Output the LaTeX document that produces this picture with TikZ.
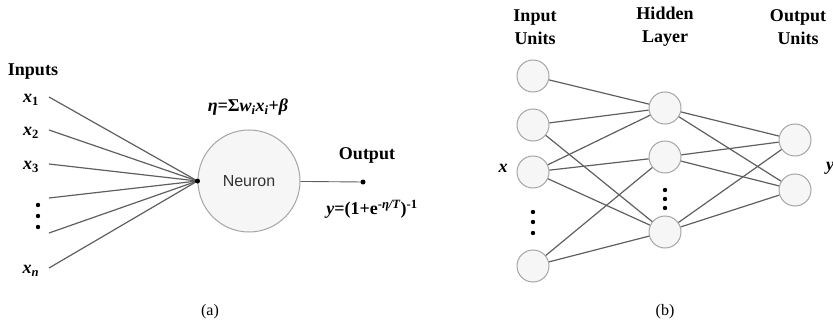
\documentclass[tikz,border=0pt]{standalone}
\usepackage{fontspec}
\setmainfont{Liberation Serif}
\setsansfont{Liberation Sans}
\usetikzlibrary{positioning,calc}
\definecolor{unitgray}{RGB}{165,165,165}
\definecolor{unitfill}{RGB}{246,246,246}
\definecolor{wiregray}{RGB}{95,95,95}

\begin{document}
\begin{tikzpicture}[
    x=1pt, y=-1pt,
    every node/.style={align=center, inner sep=0pt},
    title/.style={font=\fontsize{18}{23}\selectfont\bfseries},
    var/.style={font=\fontsize{18}{20}\selectfont\bfseries\itshape},
    caption/.style={font=\fontsize{16}{18}\selectfont},
    unit/.style={circle, minimum size=32pt, draw=unitgray, fill=unitfill, line width=1pt},
    neuron/.style={circle, minimum size=102pt, draw=unitgray, fill=unitfill, line width=1pt, font=\sffamily\fontsize{16}{18}\selectfont, text=black!80},
    wire/.style={draw=wiregray, line width=1.2pt}
]
\useasboundingbox (0,0) rectangle (833,329);

% Single neuron
\node[neuron] (neuron) at (249,181) {Neuron};
\coordinate (join) at (neuron.west);
\foreach \y [count=\i] in {97,130,164,198,233,268}
  \coordinate (in\i) at (49,\y);
\foreach \i in {1,...,6}
  \draw[wire] (in\i) -- (join);
\fill (join) circle (2.5pt);

\coordinate (out) at (363,182);
\draw[wire, line width=0.9pt] (neuron) -- (out);
\fill (out) circle (2.5pt);

% Labels of the neuron
\node[title] (inputs) at (33,72) {Inputs};
\node[var] (x1) at (31,100) {x\textsubscript{\upshape 1}};
\node[var] (x2) at (31,133) {x\textsubscript{\upshape 2}};
\node[var] (x3) at (31,167) {x\textsubscript{\upshape 3}};
\node[var] (xn) at (31,271) {x\textsubscript{n}};
\foreach \y in {205,216,227} \fill (38,\y) circle (2.2pt);
\node[var] (netsum) at (248,107) {η=\upshape Σ\itshape w\textsubscript{i}x\textsubscript{i}\upshape +\itshape β};
\node[title] (outlabel) at (367,155) {Output};
\node[var] (sigmoid) at (372,209) {y\upshape =(1+e\textsuperscript{-\itshape η/T}\upshape )\textsuperscript{-1}};
\node[caption] (capa) at (210,312) {(a)};

% Network layers
\foreach \y [count=\i] in {76,125,172,266}
  \node[unit] (u\i) at (533,\y) {};
\foreach \y [count=\i] in {108,157,232}
  \node[unit] (h\i) at (665,\y) {};
\foreach \y [count=\i] in {140,190}
  \node[unit] (o\i) at (795,\y) {};

\foreach \a/\b in {1/1,2/1,2/3,3/1,3/2,3/3,4/2,4/3}
  \draw[wire] (u\a) -- (h\b);
\foreach \a in {1,2,3}
  \foreach \b in {1,2}
    \draw[wire] (h\a) -- (o\b);

\foreach \y in {212,222,233} \fill (533,\y) circle (2.2pt);
\foreach \y in {190,199,208} \fill (665,\y) circle (2.2pt);

% Labels of the network
\node[title] (inunits) at (535,27) {Input\\Units};
\node[title] (hidlayer) at (665,27) {Hidden\\Layer};
\node[title] (outunits) at (798,27) {Output\\Units};
\node[var] (xvec) at (503,168) {x};
\node[var] (yvec) at (830,168) {y};
\node[caption] (capb) at (665,312) {(b)};

\end{tikzpicture}
\end{document}
